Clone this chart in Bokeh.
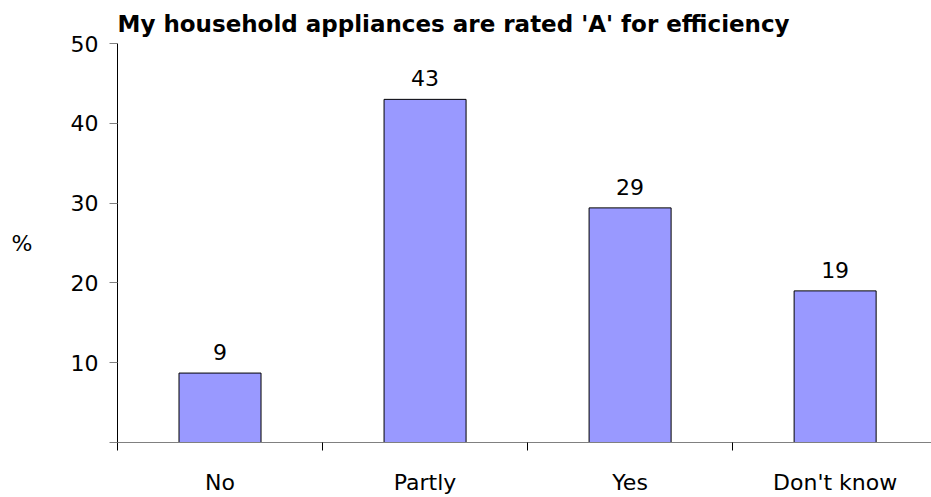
import numpy as np
from bokeh.plotting import figure
from bokeh.models import ColumnDataSource, FixedTicker, LabelSet, Range1d
from bokeh.core.properties import value
from bokeh.embed import file_html
from bokeh.resources import INLINE

title = "My household appliances are rated 'A' for efficiency"
categories = ["No", "Partly", "Yes", "Don't know"]
values = [8.7, 43.0, 29.4, 19.0]
value_labels = ["9", "43", "29", "19"]
y_ticks = [0, 10, 20, 30, 40, 50]
y_label = "%"

FONT = "DejaVu Sans"
FS = "22px"

xpos = np.arange(len(categories)) + 0.5
src = ColumnDataSource(dict(x=xpos, top=values, lab=value_labels))

p = figure(width=931, height=497, output_backend="svg", toolbar_location=None,
           x_range=Range1d(0, 3.97), y_range=Range1d(0, 50),
           min_border_left=117, min_border_right=0, min_border_top=43, min_border_bottom=54)
p.outline_line_color = None
p.grid.visible = False
p.background_fill_color = "white"
p.border_fill_color = "white"

p.title.text = title
p.title.text_font = FONT
p.title.text_font_size = "23px"
p.title.text_font_style = "bold"
p.title.align = "left"
p.title.text_color = "black"
p.title.standoff = 14

p.vbar(x="x", top="top", width=0.4, bottom=0, source=src,
       fill_color="#9999FF", line_color="black", line_width=1)

labels = LabelSet(x="x", y="top", text="lab", source=src, text_align="center",
                  text_baseline="alphabetic", y_offset=13, text_font=value(FONT),
                  text_font_size=value(FS), text_color="black")
p.add_layout(labels)

# y axis
p.yaxis.ticker = FixedTicker(ticks=y_ticks)
p.yaxis.major_label_overrides = {0: ""}
p.yaxis.major_tick_out = 8
p.yaxis.major_tick_in = 0
p.yaxis.minor_tick_out = 0
p.yaxis.minor_tick_in = 0
p.yaxis.axis_line_color = "black"
p.yaxis.major_tick_line_color = "#808080"
p.yaxis.major_label_text_font = FONT
p.yaxis.major_label_text_font_size = FS
p.yaxis.major_label_text_color = "black"
p.yaxis.major_label_standoff = 11
p.yaxis.axis_label = y_label
p.yaxis.axis_label_orientation = "horizontal"
p.yaxis.axis_label_text_font = FONT
p.yaxis.axis_label_text_font_size = FS
p.yaxis.axis_label_text_font_style = "normal"
p.yaxis.axis_label_text_color = "black"
p.yaxis.axis_label_standoff = 35

# x axis
p.xaxis.ticker = FixedTicker(ticks=list(xpos), minor_ticks=list(range(len(categories) + 1)))
p.xaxis.major_label_overrides = {float(x): c for x, c in zip(xpos, categories)}
p.xaxis.major_tick_out = 0
p.xaxis.major_tick_in = 0
p.xaxis.minor_tick_out = 8
p.xaxis.minor_tick_in = 0
p.xaxis.minor_tick_line_color = "black"
p.xaxis.axis_line_color = "#808080"
p.xaxis.major_label_text_font = FONT
p.xaxis.major_label_text_font_size = FS
p.xaxis.major_label_text_color = "black"
p.xaxis.major_label_standoff = 19

open("out.html", "w").write(file_html(p, INLINE))
